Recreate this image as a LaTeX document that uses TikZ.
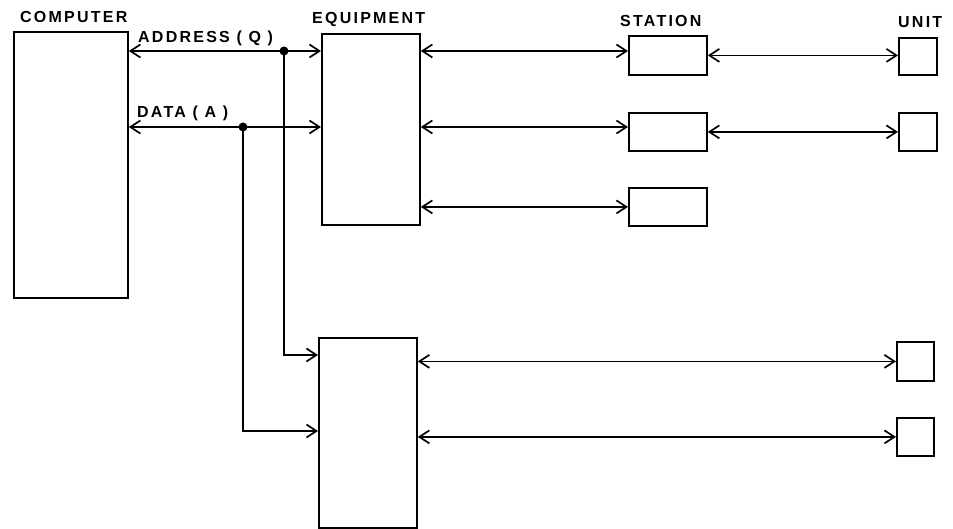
\documentclass[tikz,border=0pt]{standalone}
\usepackage{fontspec}
\setmainfont{Liberation Sans}
\newfontfamily\lblfont[LetterSpace=14]{Liberation Sans}
\usetikzlibrary{arrows.meta}

\begin{document}
\begin{tikzpicture}[
    x=1pt, y=-1pt,
    block/.style={rectangle, draw, line width=1.8pt, inner sep=0pt, anchor=north west},
    lbl/.style={inner sep=0pt, anchor=base west, font=\lblfont\bfseries\fontsize{16}{16}\selectfont},
    link/.style={line width=1.6pt, {Straight Barb[length=10pt, width=13pt, line width=1.7pt]}-{Straight Barb[length=10pt, width=13pt, line width=1.7pt]}},
    feed/.style={line width=1.6pt, -{Straight Barb[length=10pt, width=13pt, line width=1.7pt]}},
    junction/.style={circle, fill, inner sep=0pt, minimum size=9pt},
]
\useasboundingbox (0,0) rectangle (953,529);

% blocks
\node[block, minimum width=114pt, minimum height=266pt] (comp) at (13,31) {};
\node[block, minimum width=98pt, minimum height=191pt] (equipa) at (321,33) {};
\node[block, minimum width=98pt, minimum height=190pt] (equipb) at (318,337) {};
\node[block, minimum width=78pt, minimum height=39pt] (stata) at (628,35) {};
\node[block, minimum width=78pt, minimum height=38pt] (statb) at (628,112) {};
\node[block, minimum width=78pt, minimum height=38pt] (statc) at (628,187) {};
\node[block, minimum width=38pt, minimum height=37pt] (unita) at (898,37) {};
\node[block, minimum width=38pt, minimum height=38pt] (unitb) at (898,112) {};
\node[block, minimum width=37pt, minimum height=39pt] (unitc) at (896,341) {};
\node[block, minimum width=37pt, minimum height=38pt] (unitd) at (896,417) {};

% labels
\node[lbl] (complbl) at (20,23) {COMPUTER};
\node[lbl] (equiplbl) at (312,24) {EQUIPMENT};
\node[lbl] (statlbl) at (620,27) {STATION};
\node[lbl] (unitlbl) at (898,28) {UNIT};
\node[lbl] (addrlbl) at (138,43) {ADDRESS ( Q )};
\node[lbl] (datalbl) at (137,118) {DATA ( A )};

% buses
\coordinate (qdot) at (284,51);
\coordinate (adot) at (243,127);
\draw[link] (qdot -| comp.east) -- (qdot -| equipa.west);
\draw[link] (adot -| comp.east) -- (adot -| equipa.west);
\draw[feed] (qdot) |- ([yshift=-18pt]equipb.north west);
\draw[feed] (adot) |- ([yshift=-94pt]equipb.north west);
\node[junction] (qjct) at (qdot) {};
\node[junction] (ajct) at (adot) {};

% equipment to stations and units
\draw[link] (equipa.east |- qdot) -- (stata.west |- qdot);
\draw[link] (equipa.east |- adot) -- (statb.west |- adot);
\draw[link] (equipa.east |- statc.west) -- (statc.west);
\draw[link] (stata.east) -- (stata.east -| unita.west);
\draw[link] (statb.east) -- (statb.east -| unitb.west);
\draw[link] (equipb.east |- unitc.west) -- (unitc.west);
\draw[link] (equipb.east |- unitd.west) -- (unitd.west);

\end{tikzpicture}
\end{document}
